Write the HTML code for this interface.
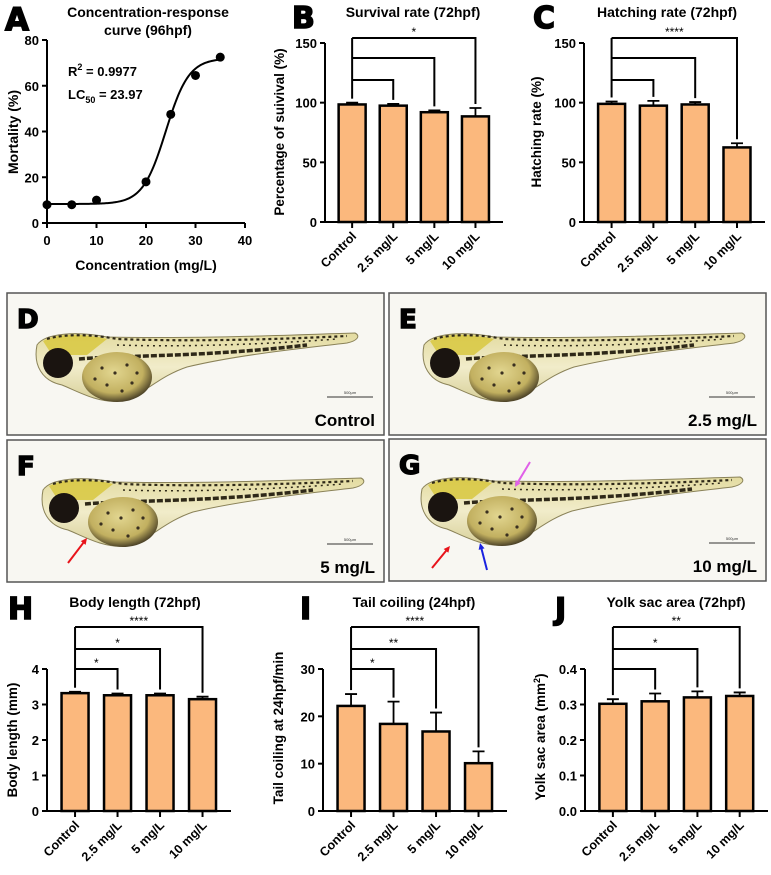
<!DOCTYPE html>
<html><head><meta charset="utf-8">
<style>
html,body{margin:0;padding:0;background:#fff;}
svg{display:block;font-family:"Liberation Sans",Arial,sans-serif;font-weight:bold;}
</style></head>
<body>
<svg id="fig" width="771" height="875" viewBox="0 0 771 875" xmlns="http://www.w3.org/2000/svg">
<defs>
<linearGradient id="fishBody" x1="0" y1="0" x2="0" y2="1">
<stop offset="0" stop-color="#e3dba0"/><stop offset="0.5" stop-color="#f1ecca"/><stop offset="1" stop-color="#d8d09a"/>
</linearGradient>
<radialGradient id="yolk" cx="0.45" cy="0.4" r="0.6">
<stop offset="0" stop-color="#e2d690"/><stop offset="0.7" stop-color="#c2b060"/><stop offset="1" stop-color="#4e4428"/>
</radialGradient>
</defs>
<g id="panels"></g>
</svg>
<script>
// ---------- Panel A data ----------
const concA = [0, 5, 10, 20, 25, 30, 35];
const mortA = [8, 8, 10, 18, 47.5, 64.5, 72.5];
const fitA = [8.3, 72, 24, 2.33]; // bottom, top, midpoint, slope scale
const xTicksA = [0, 10, 20, 30, 40];
const yTicksA = [0, 20, 40, 60, 80];

// ---------- Bar chart data ----------
const groups = ["Control", "2.5 mg/L", "5 mg/L", "10 mg/L"];
const survVals = [98.5, 97.5, 92, 88.5];
const survErr = [1.5, 1.5, 1.5, 7];
const hatchVals = [99, 97.5, 98.5, 62.5];
const hatchErr = [2, 4, 2, 3.5];
const bodyVals = [3.32, 3.26, 3.26, 3.15];
const bodyErr = [0.04, 0.05, 0.05, 0.07];
const tailVals = [22.2, 18.4, 16.8, 10.1];
const tailErr = [2.5, 4.7, 4, 2.5];
const yolkVals = [0.302, 0.309, 0.320, 0.324];
const yolkErr = [0.013, 0.022, 0.017, 0.010];
const ticks150 = [0, 50, 100, 150];
const ticksBody = [0, 1, 2, 3, 4];
const ticksTail = [0, 10, 20, 30];
const ticksYolk = [0, 0.1, 0.2, 0.3, 0.4];
const tickLabelsYolk = ["0.0", "0.1", "0.2", "0.3", "0.4"];
const survSig = ["", "", "*"];
const hatchSig = ["", "", "****"];
const bodySig = ["*", "*", "****"];
const tailSig = ["*", "**", "****"];
const yolkSig = ["", "*", "**"];

const NS = "http://www.w3.org/2000/svg";
const root = document.getElementById("panels");
function mk(tag, attrs, parent, text) {
  const e = document.createElementNS(NS, tag);
  for (const k in attrs) e.setAttribute(k, attrs[k]);
  if (text !== undefined) e.textContent = text;
  (parent || root).appendChild(e);
  return e;
}
const LETTER = {"font-family": "DejaVu Sans", "font-weight": "bold", stroke: "#000", "stroke-width": 1.5};

// ---------- Panel A ----------
(function () {
  const g = mk("g", {});
  
  
  const X0 = 47, X1 = 245, Y0 = 223, Y1 = 40;
  const sx = v => X0 + (v - 0) / 40 * (X1 - X0);
  const sy = v => Y0 - v / 80 * (Y0 - Y1);
  const t = mk("text", Object.assign({x: 5, y: 30, "font-size": 31}, LETTER), g, "A");
   
  const tt = mk("text", {x: 148, y: 17, "font-size": 14, "text-anchor": "middle"}, g, "Concentration-response");
   
  mk("text", {x: 148, y: 35, "font-size": 14, "text-anchor": "middle"}, g, "curve (96hpf)");
  const ax = mk("path", {d: `M${X0},${Y1} V${Y0} H${X1}`, stroke: "#000", "stroke-width": 2, fill: "none"}, g);
   
  yTicksA.forEach(v => {
    mk("line", {x1: X0 - 5, x2: X0, y1: sy(v), y2: sy(v), stroke: "#000", "stroke-width": 2}, g);
    const l = mk("text", {x: X0 - 8, y: sy(v) + 5, "font-size": 13, "text-anchor": "end"}, g, v);
     
  });
  xTicksA.forEach(v => {
    mk("line", {x1: sx(v), x2: sx(v), y1: Y0, y2: Y0 + 5, stroke: "#000", "stroke-width": 2}, g);
    const l = mk("text", {x: sx(v), y: Y0 + 22, "font-size": 13, "text-anchor": "middle"}, g, v);
     
  });
  const xl = mk("text", {x: 146, y: 270, "font-size": 14, "text-anchor": "middle"}, g, "Concentration (mg/L)");
   
  const yl = mk("text", {x: 0, y: 0, "font-size": 14, "text-anchor": "middle", transform: `translate(18,132) rotate(-90)`}, g, "Mortality (%)");
   
  const r2 = mk("text", {x: 68, y: 76, "font-size": 13}, g);
   
  r2.innerHTML = 'R<tspan dy="-6" font-size="9">2</tspan><tspan dy="6"> = 0.9977</tspan>';
  const lc = mk("text", {x: 68, y: 99, "font-size": 13}, g);
   
  lc.innerHTML = 'LC<tspan dy="4" font-size="9">50</tspan><tspan dy="-4"> = 23.97</tspan>';
  let d = "";
  const [b, tp, m, s] = fitA;
  for (let c = 0; c <= 35; c += 0.25) {
    const v = b + (tp - b) / (1 + Math.exp(-(c - m) / s));
    d += (c === 0 ? "M" : "L") + sx(c).toFixed(2) + "," + sy(v).toFixed(2);
  }
  const cv = mk("path", {d, stroke: "#000", "stroke-width": 2, fill: "none"}, g);
   
  concA.forEach((c, i) => {
    const p = mk("circle", {cx: sx(c), cy: sy(mortA[i]), r: 4.5, fill: "#000"}, g);
     
  });
})();

// ---------- Generic bar chart ----------
function barChart(o) {
  const g = mk("g", {});
  
  
  const sy = v => o.yBot - v / o.max * (o.yBot - o.yTop);
  const step = (o.x1 - o.x0) / 4.33;
  const cx = i => o.x0 + step * 0.66 + i * step;
  const bw = 27;
  const L = mk("text", Object.assign({x: o.letterX, y: o.letterY, "font-size": 30}, LETTER), g, o.letter);
   
  const T = mk("text", {x: o.titleX, y: o.titleY, "font-size": 14, "text-anchor": "middle"}, g, o.title);
   
  const Y = mk("text", {x: 0, y: 0, "font-size": 13.5, "text-anchor": "middle", transform: `translate(${o.ylX},${o.ylY}) rotate(-90)`}, g);
   
  if (o.ylabelHTML) Y.innerHTML = o.ylabelHTML; else Y.textContent = o.ylabel;
  o.vals.forEach((v, i) => {
    const top = sy(v);
    const r = mk("rect", {x: cx(i) - bw / 2, y: top, width: bw, height: o.yBot - top, fill: "#FBB87D", stroke: "#000", "stroke-width": 2.5}, g);
     
    const et = sy(v + o.err[i]);
    const e = mk("path", {d: `M${cx(i)},${top} V${et} M${cx(i) - 6},${et} H${cx(i) + 6}`, stroke: "#000", "stroke-width": 1.8, fill: "none"}, g);
     
  });
  const A = mk("path", {d: `M${o.x0},${o.yTop} V${o.yBot} H${o.x1}`, stroke: "#000", "stroke-width": 2, fill: "none"}, g);
   
  o.ticks.forEach((v, k) => {
    mk("line", {x1: o.x0 - 5, x2: o.x0, y1: sy(v), y2: sy(v), stroke: "#000", "stroke-width": 2}, g);
    const t = mk("text", {x: o.x0 - 8, y: sy(v) + 5, "font-size": 13, "text-anchor": "end"}, g, o.tickLabels ? o.tickLabels[k] : v);
     
  });
  groups.forEach((gname, i) => {
    mk("line", {x1: cx(i), x2: cx(i), y1: o.yBot, y2: o.yBot + 6, stroke: "#000", "stroke-width": 2}, g);
    const t = mk("text", {x: 0, y: 0, "font-size": 12.5, "text-anchor": "end", transform: `translate(${cx(i) + 5},${o.yBot + 15}) rotate(-45)`}, g, gname);
     
  });
  const c0 = cx(0), e0 = sy(o.vals[0] + o.err[0]) - 4;
  mk("line", {x1: c0, x2: c0, y1: o.brY[2], y2: e0, stroke: "#000", "stroke-width": 2}, g);
  o.brY.forEach((by, k) => {
    const ci = cx(k + 1), ei = sy(o.vals[k + 1] + o.err[k + 1]) - 4;
    const p = mk("path", {d: `M${c0},${by} H${ci} V${ei}`, stroke: "#000", "stroke-width": 2, fill: "none"}, g);
     
    if (o.sig[k]) {
      const s = mk("text", {x: (c0 + ci) / 2, y: by - 2, "font-size": 12, "text-anchor": "middle", "font-weight": "normal"}, g, o.sig[k]);
       
    }
  });
}

barChart({name: "panel-b", letter: "B", letterX: 292, letterY: 28, title: "Survival rate (72hpf)", titleX: 413, titleY: 17,
  ylabel: "Percentage of suivival (%)", ylX: 284, ylY: 132, x0: 325, x1: 503, yTop: 43, yBot: 222, max: 150,
  ticks: ticks150, vals: survVals, err: survErr, brY: [80, 58, 38], sig: survSig});
barChart({name: "panel-c", letter: "C", letterX: 533, letterY: 28, title: "Hatching rate (72hpf)", titleX: 667, titleY: 17,
  ylabel: "Hatching rate (%)", ylX: 541, ylY: 132, x0: 584, x1: 765, yTop: 43, yBot: 222, max: 150,
  ticks: ticks150, vals: hatchVals, err: hatchErr, brY: [80, 58, 38], sig: hatchSig});
barChart({name: "panel-h", letter: "H", letterX: 8, letterY: 619, title: "Body length (72hpf)", titleX: 135, titleY: 607,
  ylabel: "Body length (mm)", ylX: 17, ylY: 740, x0: 47, x1: 231, yTop: 669, yBot: 811, max: 4,
  ticks: ticksBody, vals: bodyVals, err: bodyErr, brY: [669, 649, 627], sig: bodySig});
barChart({name: "panel-i", letter: "I", letterX: 300, letterY: 619, title: "Tail coiling (24hpf)", titleX: 414, titleY: 607,
  ylabel: "Tail coiling at 24hpf/min", ylX: 283, ylY: 728, x0: 323, x1: 507, yTop: 669, yBot: 811, max: 30,
  ticks: ticksTail, vals: tailVals, err: tailErr, brY: [669, 649, 627], sig: tailSig});
barChart({name: "panel-j", letter: "J", letterX: 555, letterY: 619, title: "Yolk sac area (72hpf)", titleX: 676, titleY: 607,
  ylabelHTML: 'Yolk sac area (mm<tspan dy="-5" font-size="9">2</tspan><tspan dy="5">)</tspan>', ylX: 545, ylY: 737, x0: 585, x1: 768, yTop: 669, yBot: 811, max: 0.4,
  ticks: ticksYolk, tickLabels: tickLabelsYolk, vals: yolkVals, err: yolkErr, brY: [669, 649, 627], sig: yolkSig});

// ---------- Photo panels ----------
const photos = [
  {letter: "D", label: "Control", x: 7, y: 293, dx: 0, dy: 0},
  {letter: "E", label: "2.5 mg/L", x: 389, y: 293, dx: 5, dy: 0},
  {letter: "F", label: "5 mg/L", x: 7, y: 440, dx: 6, dy: -2},
  {letter: "G", label: "10 mg/L", x: 389, y: 439, dx: 3, dy: -2}
];
photos.forEach(p => {
  const g = mk("g", {transform: `translate(${p.x},${p.y})`});
  
  
  mk("rect", {x: 0, y: 0, width: 377, height: 142, fill: "#f8f7f2", stroke: "#555", "stroke-width": 1.5}, g);
  const f = mk("g", {transform: `translate(${p.dx},${p.dy})`}, g);
   
  mk("path", {d: "M30,52 C38,40 70,38 100,44 C190,46 280,42 348,40 C354,43 350,48 340,50 C290,56 230,62 180,74 C150,84 135,104 112,108 C90,110 70,98 55,92 C35,88 26,72 30,52 Z", fill: "url(#fishBody)", stroke: "#8a8258", "stroke-width": 1}, f);
  mk("path", {d: "M36,48 C50,40 75,40 100,46 L80,62 L45,62 Z", fill: "#d8c840", opacity: 0.85}, f);
  mk("path", {d: "M40,46 C60,40 90,42 110,46 C160,48 240,48 340,43", stroke: "#2e2818", "stroke-width": 2.2, "stroke-dasharray": "3 3", fill: "none"}, f);
  mk("path", {d: "M110,52 C170,54 250,52 330,46", stroke: "#2e2818", "stroke-width": 1.5, "stroke-dasharray": "2 4", fill: "none"}, f);
  mk("path", {d: "M72,66 C120,62 200,64 300,52", stroke: "#2e2818", "stroke-width": 3.5, "stroke-dasharray": "6 2", fill: "none"}, f);
  mk("ellipse", {cx: 110, cy: 84, rx: 35, ry: 25, fill: "url(#yolk)"}, f);
  [[95,75],[108,80],[120,72],[100,92],[125,90],[115,98],[88,86],[130,80]].forEach(q => mk("circle", {cx: q[0], cy: q[1], r: 1.6, fill: "#3a3020"}, f));
  mk("circle", {cx: 51, cy: 70, r: 15, fill: "#1a1410"}, f);
  mk("line", {x1: 320, x2: 366, y1: 104, y2: 104, stroke: "#333", "stroke-width": 1}, g);
  mk("text", {x: 343, y: 101, "font-size": 4, "text-anchor": "middle", "font-weight": "normal", fill: "#333"}, g, "500μm");
  const L = mk("text", Object.assign({x: 10, y: 35, "font-size": 26}, LETTER), g, p.letter);
   
  const t = mk("text", {x: 368, y: 133, "font-size": 17, "text-anchor": "end"}, g, p.label);
   
});
function arrow(x1, y1, x2, y2, col, name) {
  const a = Math.atan2(y2 - y1, x2 - x1), h = 7;
  const g = mk("g", {});
  
  
  mk("line", {x1, y1, x2: x2 - Math.cos(a) * 4, y2: y2 - Math.sin(a) * 4, stroke: col, "stroke-width": 2}, g);
  mk("path", {d: `M${x2},${y2} L${x2 - h * Math.cos(a - 0.45)},${y2 - h * Math.sin(a - 0.45)} L${x2 - h * Math.cos(a + 0.45)},${y2 - h * Math.sin(a + 0.45)} Z`, fill: col}, g);
}
arrow(68, 563, 87, 538, "#e8141b", "red-arrow-f");
arrow(432, 568, 450, 546, "#e8141b", "red-arrow-g");
arrow(487, 570, 480, 543, "#1a22e0", "blue-arrow-g");
arrow(530, 462, 515, 487, "#e060e8", "magenta-arrow-g");
</script>
</body></html>
